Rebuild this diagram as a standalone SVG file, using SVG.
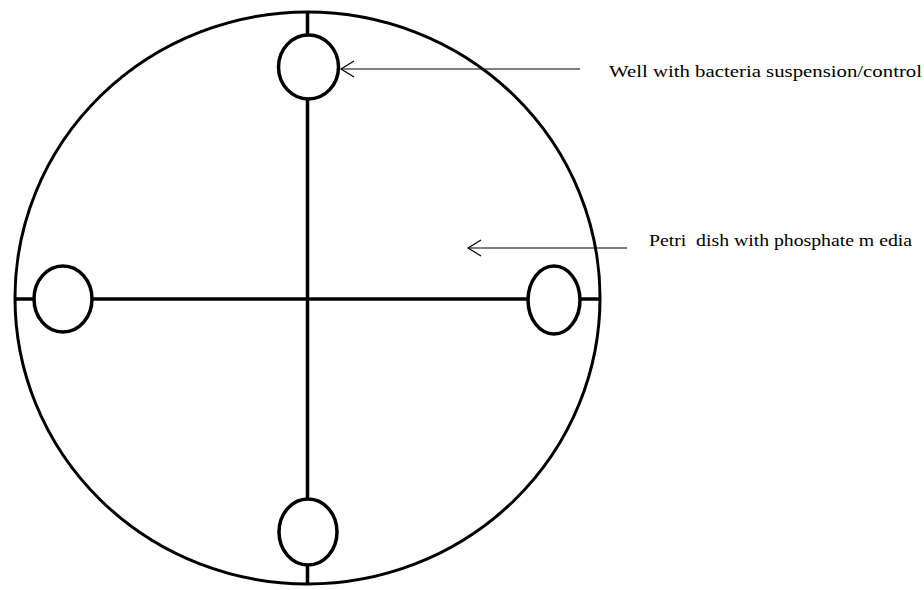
<svg xmlns="http://www.w3.org/2000/svg" width="924" height="590" viewBox="0 0 924 590">
<style>
.dish{fill:none;stroke:#000;stroke-width:3}
.cross{stroke:#000;stroke-width:3.5}
.well{fill:#fff;stroke:#000;stroke-width:3.5}
.ptr{stroke:#000;stroke-width:1.2;fill:none}
.lbl{font-family:"Liberation Serif","Times New Roman",serif;font-size:16px;fill:#000;white-space:pre}
</style>
<defs>
<marker id="chev" markerUnits="userSpaceOnUse" markerWidth="20" markerHeight="20" refX="15" refY="10" orient="auto" viewBox="0 0 20 20">
<path d="M2,2 L15,10 L2,18" fill="none" stroke="#000" stroke-width="1.2"/>
</marker>
</defs>
<g id="dish">
<ellipse class="dish" cx="307.5" cy="298" rx="292.5" ry="286"/>
</g>
<g id="connectors">
<line class="cross" x1="307.5" y1="12" x2="307.5" y2="584"/>
<line class="cross" x1="15" y1="299" x2="600" y2="299"/>
<line class="ptr" x1="580" y1="69" x2="341" y2="69" marker-end="url(#chev)"/>
<line class="ptr" x1="627" y1="248" x2="468" y2="248" marker-end="url(#chev)"/>
</g>
<g id="well-top"><ellipse class="well" cx="308.5" cy="67" rx="30" ry="32"/></g>
<g id="well-left"><ellipse class="well" cx="63" cy="299" rx="29" ry="33"/></g>
<g id="well-right"><ellipse class="well" cx="554" cy="300" rx="26" ry="34"/></g>
<g id="well-bottom"><ellipse class="well" cx="308" cy="532" rx="29" ry="33"/></g>
<g id="label-well"><text class="lbl" x="609" y="77" textLength="313" lengthAdjust="spacingAndGlyphs">Well with bacteria suspension/control</text></g>
<g id="label-dish"><text class="lbl" x="649" y="246" textLength="263" lengthAdjust="spacingAndGlyphs" xml:space="preserve">Petri  dish with phosphate m edia</text></g>
</svg>
